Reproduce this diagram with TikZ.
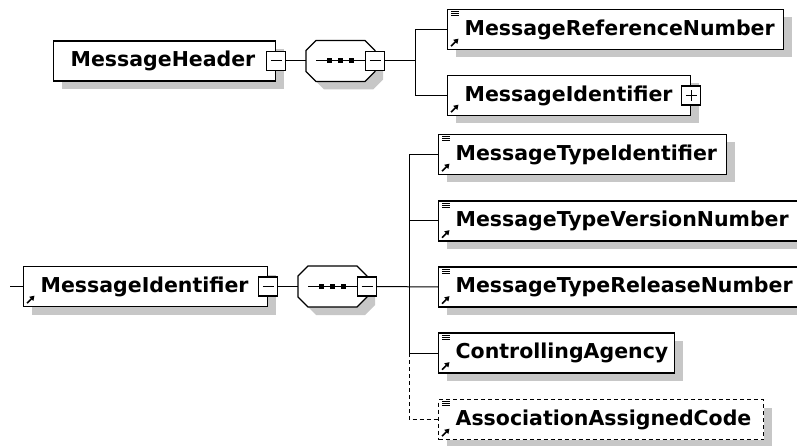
\documentclass[tikz,border=0pt]{standalone}
\usepackage{fontspec}
\setmainfont{DejaVu Sans}
\usetikzlibrary{shadows,arrows.meta}
\tikzset {>=Stealth,
  shade/.style={drop shadow={shadow xshift=8pt,shadow yshift=-8pt,fill=black!22,opacity=1}},
  elem/.style={draw,line width=1.3pt,fill=white,anchor=west,minimum height=40pt,
    inner xsep=17pt,inner ysep=0pt,align=left,shade,
    font=\bfseries\fontsize{20.5}{24}\selectfont},
  optional/.style={dash pattern=on 4pt off 3pt},
  seqbox/.style={rectangle,anchor=west,minimum width=69pt,minimum height=41pt,
    inner sep=0pt,outer sep=0pt},
  pmbox/.style={draw,line width=1.1pt,fill=white,minimum size=19pt,inner sep=0pt},
  minusbox/.style={pmbox,
    path picture={\draw[line width=1pt] ([xshift=4pt]path picture bounding box.west) --
      ([xshift=-4pt]path picture bounding box.east);}},
  plusbox/.style={pmbox,
    path picture={\draw[line width=1pt] ([xshift=4pt]path picture bounding box.west) --
      ([xshift=-4pt]path picture bounding box.east);
      \draw[line width=1pt] ([yshift=4pt]path picture bounding box.south) --
      ([yshift=-4pt]path picture bounding box.north);}},
  conn/.style={line width=1pt}
}
\newcommand\seqshape[1]{
  \draw[line width=1.3pt,fill=white,shade] ([shift={(10,0)}]#1.north west) -- ++(49,0) --
    ++(10,10) -- ++(0,21) -- ++(-10,10) -- ++(-49,0) -- ++(-10,-10) -- ++(0,-21) -- cycle;
  \draw[line width=1pt] ([xshift=10pt]#1.west) -- ([xshift=-10pt]#1.east);
  \foreach \d in {-11,0,11}
    {\fill[black] ([shift={(\d-2.5,-2.5)}]#1.center) rectangle ++(5,5);}}
\newcommand\refmark[1]{\draw[line width=1.6pt,-{Triangle[length=4.5pt,width=5.5pt]}]
  ([shift={(4,-4)}]#1.south west) -- ++(7.5,-7.5);}
\newcommand\typemark[1]{\foreach \k in {3,5,7}
  {\draw[line width=0.9pt] ([shift={(4,\k)}]#1.north west) -- ++(8,0);}}

\begin{document}
\begin{tikzpicture}[x=1pt,y=-1pt]
\useasboundingbox (0,0) rectangle (797,446);

\node[elem,text width=188pt] (hdr) at (53,61) {MessageHeader};
\node[minusbox] (hdrm) at (hdr.east) {};
\node[seqbox] (seqa) at (306,61) {};
\seqshape{seqa}
\node[minusbox] (seqam) at (seqa.east) {};
\node[elem,text width=302pt] (mrn) at (447,29.5) {MessageReferenceNumber};
\node[elem,text width=209pt] (mida) at (447,95.5) {MessageIdentifier};
\node[plusbox] (midap) at (mida.east) {};

\node[elem,text width=210pt] (midb) at (23,286.5) {MessageIdentifier};
\node[minusbox] (midbm) at (midb.east) {};
\node[seqbox] (seqb) at (298,286.5) {};
\seqshape{seqb}
\node[minusbox] (seqbm) at (seqb.east) {};
\node[elem,text width=254pt] (mti) at (438,154.5) {MessageTypeIdentifier};
\node[elem,text width=336pt] (mtvn) at (438,221) {MessageTypeVersionNumber};
\node[elem,text width=336pt] (mtrn) at (438,287) {MessageTypeReleaseNumber};
\node[elem,text width=202pt] (ca) at (438,353) {ControllingAgency};
\node[elem,optional,text width=291pt] (aac) at (438,419.5) {AssociationAssignedCode};

\foreach \n in {mrn,mti,mtvn,mtrn,ca,aac}
  {\typemark{\n}}
\foreach \n in {mrn,mida,midb,mti,mtvn,mtrn,ca,aac}
  {\refmark{\n}}

\coordinate (hfork) at (415,61);
\draw[conn] (hdrm.east) -- (seqa.west);
\draw[conn] (seqam.east) -- (hfork);
\draw[conn] (hfork) |- (mrn.west);
\draw[conn] (hfork) |- (mida.west);

\coordinate (bin) at (10,286.5);
\coordinate (bfork) at (409,286.5);
\draw[conn] (bin) -- (midb.west);
\draw[conn] (midbm.east) -- (seqb.west);
\draw[conn] (seqbm.east) -- (mtrn.west);
\draw[conn] (bfork) |- (mti.west);
\draw[conn] (bfork) |- (mtvn.west);
\draw[conn] (bfork) |- (ca.west);
\draw[conn,optional] (bfork |- ca.west) |- (aac.west);
\end{tikzpicture}
\end{document}
